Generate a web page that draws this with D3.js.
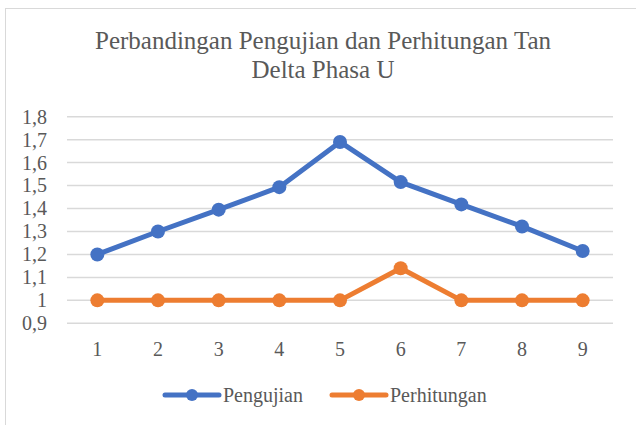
<!DOCTYPE html>
<html>
<head>
<meta charset="utf-8">
<script src="https://cdn.jsdelivr.net/npm/d3@7"></script>
<style>
  body { margin: 0; background: #fff; }
</style>
</head>
<body>
<div id="chart"></div>
<script>
const categories = ["1", "2", "3", "4", "5", "6", "7", "8", "9"];
const pengujian = [1.2, 1.3, 1.395, 1.493, 1.69, 1.515, 1.418, 1.322, 1.215];
const perhitungan = [1, 1, 1, 1, 1, 1.14, 1, 1, 1];
const yTicks = [0.9, 1.0, 1.1, 1.2, 1.3, 1.4, 1.5, 1.6, 1.7, 1.8];

const width = 636;
const height = 425;
const margin = { top: 116.7, right: 23, bottom: 101.7, left: 67 };
const font = "Liberation Serif";

const svg = d3.select("#chart")
    .append("svg")
    .attr("width", width)
    .attr("height", height)
    .attr("font-family", font)
    .style("display", "block");

// chart frame
svg.append("rect")
    .attr("x", 5.5)
    .attr("y", 8.5)
    .attr("width", width)
    .attr("height", height)
    .attr("fill", "none")
    .attr("stroke", "#d9d9d9");

const x = d3.scaleBand()
    .domain(categories)
    .range([margin.left, width - margin.right]);

const y = d3.scaleLinear()
    .domain([0.9, 1.8])
    .range([height - margin.bottom, margin.top]);

// Title
const title = svg.append("text")
    .attr("text-anchor", "middle")
    .attr("fill", "#595959")
    .attr("font-family", font)
    .attr("font-size", 25);
title.append("tspan").attr("x", 323).attr("y", 49).text("Perbandingan Pengujian dan Perhitungan Tan");
title.append("tspan").attr("x", 323).attr("y", 78).text("Delta Phasa U");

// Gridlines
svg.append("g")
    .selectAll("line")
    .data(yTicks)
    .join("line")
    .attr("x1", margin.left)
    .attr("x2", width - margin.right)
    .attr("y1", d => y(d))
    .attr("y2", d => y(d))
    .attr("stroke", "#d9d9d9")
    .attr("stroke-width", 1.5);

// Y axis
const yAxis = svg.append("g")
    .attr("transform", `translate(${margin.left - 20},0)`)
    .call(d3.axisLeft(y)
        .tickValues(yTicks)
        .tickSize(0)
        .tickPadding(0)
        .tickFormat(d => d3.format(".1f")(d).replace(".0", "").replace(".", ",")));
yAxis.select(".domain").remove();
yAxis.attr("font-family", font).attr("font-size", 20);
yAxis.selectAll("text").attr("fill", "#595959");

// X axis
const xAxis = svg.append("g")
    .attr("transform", `translate(0,${y(0.9) + 18})`)
    .call(d3.axisBottom(x).tickSize(0).tickPadding(0));
xAxis.select(".domain").remove();
xAxis.attr("font-family", font).attr("font-size", 20);
xAxis.selectAll("text").attr("fill", "#595959");

const series = [
    { name: "Pengujian", values: pengujian, color: "#4472c4" },
    { name: "Perhitungan", values: perhitungan, color: "#ed7d31" }
];

const line = d3.line()
    .x((d, i) => x(categories[i]) + x.bandwidth() / 2)
    .y(d => y(d));

series.forEach(s => {
    svg.append("path")
        .datum(s.values)
        .attr("d", line)
        .attr("fill", "none")
        .attr("stroke", s.color)
        .attr("stroke-width", 5)
        .attr("stroke-linejoin", "round")
        .attr("stroke-linecap", "round");

    svg.append("g")
        .selectAll("circle")
        .data(s.values)
        .join("circle")
        .attr("cx", (d, i) => x(categories[i]) + x.bandwidth() / 2)
        .attr("cy", d => y(d))
        .attr("r", 7)
        .attr("fill", s.color);
});

// Legend
const legendX = [165, 332];
const legend = svg.append("g");
series.forEach((s, i) => {
    const g = legend.append("g").attr("transform", `translate(${legendX[i]},395)`);
    g.append("line")
        .attr("x1", 0).attr("x2", 54)
        .attr("stroke", s.color)
        .attr("stroke-width", 5)
        .attr("stroke-linecap", "round");
    g.append("circle").attr("cx", 27).attr("r", 6).attr("fill", s.color);
    g.append("text")
        .attr("x", 58)
        .attr("y", 7)
        .attr("fill", "#595959")
        .attr("font-size", 20)
        .text(s.name);
});
</script>
</body>
</html>
